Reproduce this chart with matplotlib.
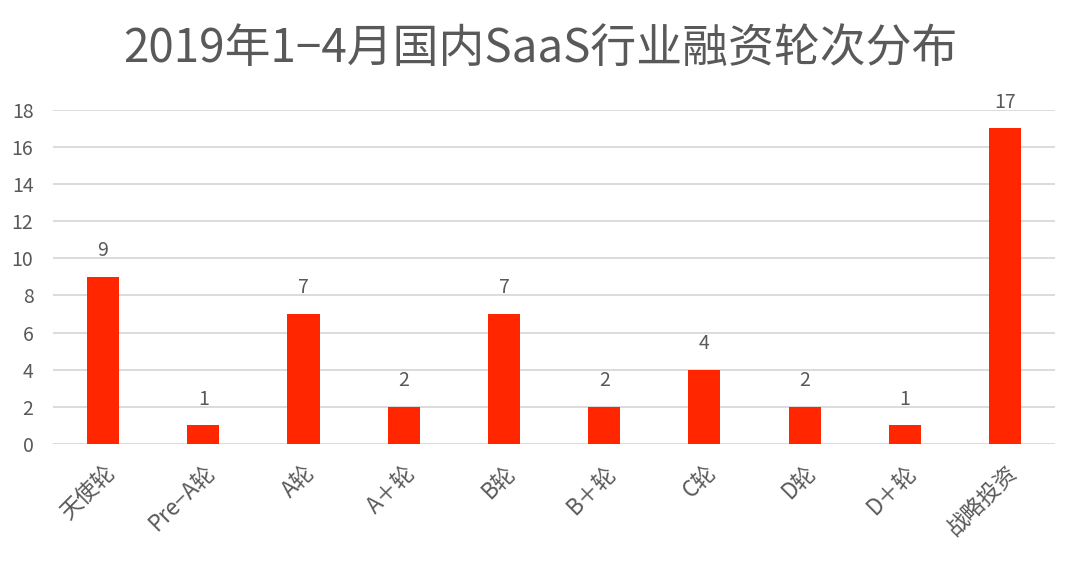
import numpy as np
import matplotlib
matplotlib.use("Agg")
import matplotlib.pyplot as plt

plt.rcParams['font.family'] = ['Noto Sans CJK SC', 'DejaVu Sans']

categories = ["天使轮", "Pre−A轮", "A轮", "A＋轮", "B轮", "B＋轮", "C轮", "D轮", "D＋轮", "战略投资"]
counts = [9, 1, 7, 2, 7, 2, 4, 2, 1, 17]
title = "2019年1−4月国内SaaS行业融资轮次分布"

text_color = "#595959"
bar_color = "#FF2600"
grid_color = "#D9D9D9"

fig = plt.figure(figsize=(10.8, 5.75), dpi=100)
ax = fig.add_axes([0.049, 0.228, 0.928, 0.581])

x = np.arange(len(categories))
ax.bar(x, counts, width=0.32, color=bar_color, zorder=3)

for xi, v in zip(x, counts):
    ax.text(xi, v + 0.85, str(v), ha="center", va="bottom",
            fontsize=14, color=text_color)

ax.set_xlim(-0.5, len(categories) - 0.5)
ax.set_ylim(0, 18)
ax.set_yticks(np.arange(0, 19, 2))
ax.yaxis.grid(True, color=grid_color, linewidth=1.3, zorder=0)
ax.set_axisbelow(True)
for s in ax.spines.values():
    s.set_visible(False)
ax.tick_params(axis="both", length=0, colors=text_color)
ax.tick_params(axis="y", pad=14, labelsize=14)
ax.tick_params(axis="x", pad=12, labelsize=16)
ax.set_xticks(x)
ax.set_xticklabels(categories, rotation=45, ha="right", rotation_mode="anchor")
for lbl in ax.get_xticklabels():
    lbl.set_x(lbl.get_position()[0])

fig.text(0.5, 0.915, title, ha="center", va="center", fontsize=33, color=text_color)

fig.savefig("out.png", dpi=100, facecolor="white")
